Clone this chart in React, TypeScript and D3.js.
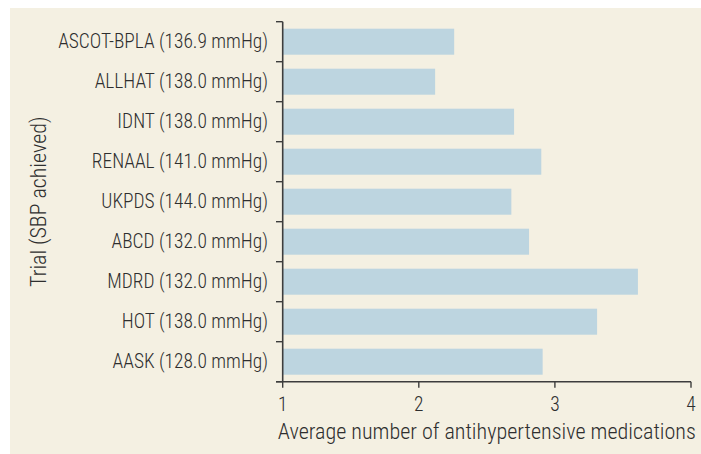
import React from "react";
import * as d3 from "d3";

const trials = [
  "ASCOT-BPLA (136.9 mmHg)",
  "ALLHAT (138.0 mmHg)",
  "IDNT (138.0 mmHg)",
  "RENAAL (141.0 mmHg)",
  "UKPDS (144.0 mmHg)",
  "ABCD (132.0 mmHg)",
  "MDRD (132.0 mmHg)",
  "HOT (138.0 mmHg)",
  "AASK (128.0 mmHg)",
];
const medications = [2.26, 2.12, 2.7, 2.9, 2.68, 2.81, 3.61, 3.31, 2.91];
const xTicks = [1, 2, 3, 4];
const xTitle = "Average number of antihypertensive medications";
const yTitle = "Trial (SBP achieved)";

const W = 701;
const H = 454;
const margin = { left: 282.7, right: 10, top: 21.7, bottom: 72.3 };
const textColor = "#2e2e2e";
const axisColor = "#3d3d3d";
const labelFont = "'Liberation Sans Narrow', 'Roboto Condensed', 'Arial Narrow', sans-serif";
const weight = 300;

export default function App() {
  const x = d3.scaleLinear().domain([1, 4]).range([margin.left, W - margin.right]);
  const y = d3
    .scaleBand<string>()
    .domain(trials)
    .range([margin.top, H - margin.bottom])
    .paddingInner(0.35)
    .paddingOuter(0.175);
  const step = y.step();
  const boundaries = d3.range(trials.length + 1).map((i) => margin.top + i * step);
  const y0 = H - margin.bottom;

  return (
    <svg
      width={W}
      height={H}
      style={{ position: "absolute", left: 0, top: 0, display: "block" }}
    >
      <rect x={0} y={0} width={W} height={H} fill="#ffffff" />
      <rect x={10} y={8} width={W - 10} height={H - 8} fill="#f4f0e2" />
      {trials.map((t, i) => (
        <rect
          key={t}
          x={x(1)}
          y={y(t)}
          width={x(medications[i]) - x(1)}
          height={y.bandwidth()}
          fill="#bdd5e0"
        />
      ))}
      {trials.map((t) => (
        <text
          key={"l" + t}
          x={268}
          y={(y(t) as number) + y.bandwidth() / 2}
          textAnchor="end"
          dominantBaseline="central"
          fontFamily={labelFont}
          fontWeight={weight}
          fontSize={19.4}
          fill={textColor}
        >
          {t}
        </text>
      ))}
      {/* y axis */}
      <line x1={x(1)} x2={x(1)} y1={margin.top} y2={y0} stroke={axisColor} strokeWidth={1.6} />
      {boundaries.map((b, i) => (
        <line key={"yt" + i} x1={276} x2={x(1)} y1={b} y2={b} stroke={axisColor} strokeWidth={1.4} />
      ))}
      {/* x axis */}
      <line x1={276} x2={x(4)} y1={y0} y2={y0} stroke={axisColor} strokeWidth={1.6} />
      {xTicks.map((v) => (
        <g key={"xt" + v}>
          <line x1={x(v)} x2={x(v)} y1={y0} y2={y0 + 6} stroke={axisColor} strokeWidth={1.4} />
          <text
            x={x(v)}
            y={y0 + 23}
            textAnchor="middle"
            dominantBaseline="central"
            fontFamily={labelFont}
            fontWeight={weight}
            fontSize={19.5}
            fill={textColor}
          >
            {v}
          </text>
        </g>
      ))}
      <text
        x={(x(1) + x(4)) / 2}
        y={y0 + 49}
        textAnchor="middle"
        dominantBaseline="central"
        fontFamily={labelFont}
        fontWeight={weight}
        fontSize={22.1}
        fill={textColor}
      >
        {xTitle}
      </text>
      <text
        transform={`translate(38, ${(margin.top + y0) / 2}) rotate(-90)`}
        textAnchor="middle"
        dominantBaseline="central"
        fontFamily={labelFont}
        fontWeight={weight}
        fontSize={22}
        fill={textColor}
      >
        {yTitle}
      </text>
    </svg>
  );
}
